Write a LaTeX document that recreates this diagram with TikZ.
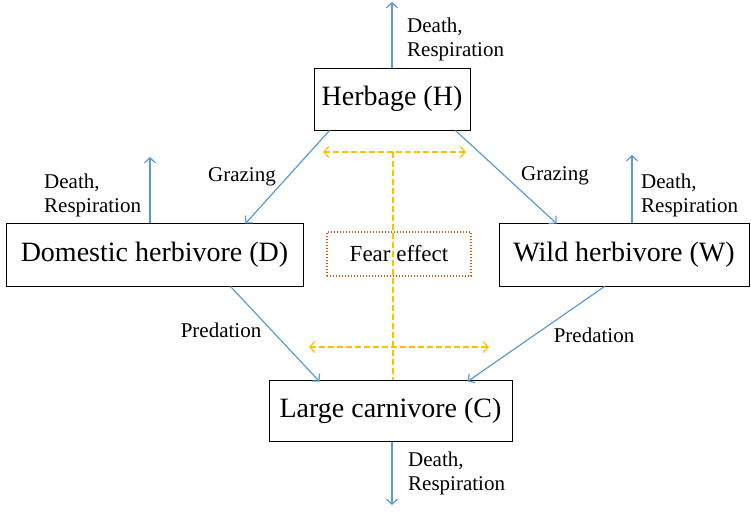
\documentclass[tikz,border=0pt]{standalone}
\usepackage{fontspec}
\setmainfont{Liberation Serif}
\usetikzlibrary{arrows.meta}
\definecolor{flowblue}{RGB}{91,155,213}
\definecolor{fearamber}{RGB}{255,192,0}
\definecolor{fearrust}{RGB}{197,90,17}

\begin{document}
\begin{tikzpicture}[x=1pt,y=-1pt,>={Straight Barb[length=5pt,width=11pt]},
  box/.style={draw,line width=1pt,minimum height=62pt,inner sep=0pt,font=\fontsize{28}{30}\selectfont},
  flow/.style={->,flowblue,line width=1.2pt},
  lbl/.style={font=\fontsize{21}{24}\selectfont,inner sep=0pt,align=left},
  fear/.style={fearamber,line width=1.2pt,dash pattern=on 6pt off 3pt}]
  \useasboundingbox (0,0) rectangle (751,511);
  \node[box,minimum width=156pt] (H) at (392,99) {Herbage (H)};
  \node[box,minimum width=297pt,minimum height=63pt] (D) at (154.5,254.5) {Domestic herbivore (D)};
  \node[box,minimum width=250pt,minimum height=63pt] (W) at (624,254.5) {Wild herbivore (W)};
  \node[box,minimum width=243pt,minimum height=61pt] (C) at (390.5,410.5) {Large carnivore (C)};
  \node[draw=fearrust,line width=1.2pt,dash pattern=on 1.2pt off 1.8pt,minimum width=144pt,minimum height=44pt,
    font=\fontsize{23}{26}\selectfont] (F) at (399,254) {Fear effect};

  \coordinate (dH) at (392,2);
  \coordinate (dD) at (150,157);
  \coordinate (dW) at (632,155);
  \coordinate (dC) at (392,505);
  \draw[flow] (dH |- H.north) -- (dH);
  \draw[flow] (dD |- D.north) -- (dD);
  \draw[flow] (dW |- W.north) -- (dW);
  \draw[flow] (dC |- C.south) -- (dC);
  \node[lbl,anchor=west] (lH) at (407,39) {Death,\\Respiration};
  \node[lbl,anchor=west] (lD) at (44,195) {Death,\\Respiration};
  \node[lbl,anchor=west] (lW) at (641,195) {Death,\\Respiration};
  \node[lbl,anchor=west] (lC) at (408,473) {Death,\\Respiration};

  \draw[flow] ([xshift=16pt]H.south west) -- ([xshift=-58pt,yshift=-1pt]D.north east);
  \draw[flow] ([xshift=-15pt]H.south east) -- ([xshift=58pt,yshift=-1pt]W.north west);
  \draw[flow] ([xshift=-73pt]D.south east) -- ([xshift=51pt,yshift=-2pt]C.north west);
  \draw[flow] ([xshift=106pt]W.south west) -- ([xshift=-45pt,yshift=-2pt]C.north east);
  \node[lbl] (g1) at (242,177) {Grazing};
  \node[lbl] (g2) at (555,176) {Grazing};
  \node[lbl] (p1) at (221,330) {Predation};
  \node[lbl] (p2) at (594,335) {Predation};

  \coordinate (fa) at (323,152);
  \coordinate (fb) at (466,152);
  \coordinate (fc) at (309,347);
  \coordinate (fd) at (489,347);
  \coordinate (fm) at (393,152);
  \draw[fear,<->] (fa) -- (fb);
  \draw[fear,<->] (fc) -- (fd);
  \draw[fear] (fm) -- (fm |- C.north);
\end{tikzpicture}
\end{document}
